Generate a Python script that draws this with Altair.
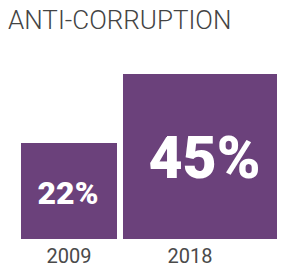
import altair as alt
import pandas as pd

years = ["2009", "2018"]
values = [22, 45]
labels = ["22%", "45%"]
chart_title = "ANTI-CORRUPTION"

df = pd.DataFrame({"year": years, "value": values, "label": labels})

PURPLE = "#6b417b"
GRAY = "#444444"

base = alt.Chart(df).transform_calculate(
    side="datum.value + 10"
).transform_calculate(
    step="datum.side + 2"
).transform_window(
    cum="sum(step)", sort=[alt.SortField("year")]
).transform_calculate(
    left="datum.cum - datum.step",
    right="datum.cum - 2",
    cx="datum.cum - datum.step + datum.side / 2",
    cy="datum.side / 2",
)

xs = alt.Scale(domain=[-4.333, 85.333], nice=False, zero=False, padding=0)
ys = alt.Scale(domain=[0, 63.667], nice=False, zero=False, padding=0)

rects = base.mark_rect(color=PURPLE, clip=True).encode(
    x=alt.X("left:Q", scale=xs, axis=None),
    x2="right:Q",
    y=alt.Y("side:Q", scale=ys, axis=None),
    y2=alt.datum(0),
)

texts = base.mark_text(
    color="white", font="Roboto", fontWeight=900, baseline="middle", align="center", dy=3, dx=-1
).encode(
    x=alt.X("cx:Q", scale=xs, axis=None),
    y=alt.Y("cy:Q", scale=ys, axis=None),
    text="label:N",
    size=alt.Size("value:Q", scale=alt.Scale(domain=[22, 45], range=[32, 59]), legend=None),
)

year_layer = alt.Chart(df).mark_point(opacity=0).encode(
    x=alt.X(
        "year:O",
        scale=alt.Scale(range=[0, 242], padding=0.5),
        axis=alt.Axis(
            orient="bottom", title=None, labelAngle=0, domain=False, ticks=False,
            labelFontSize=20, labelColor="#4a4a4a", labelFont="Roboto", labelFontWeight=400,
            labelPadding=7,
        ),
    )
)

chart = alt.layer(rects, texts, year_layer).resolve_scale(x="independent").properties(
    width=269,
    height=191,
    padding={"top": 40, "bottom": 24, "left": 0, "right": 0},
    autosize=alt.AutoSizeParams(type="none"),
    title=alt.TitleParams(
        text=chart_title, anchor="start", frame="group", fontSize=26, fontWeight=300,
        font="Roboto", color=GRAY, offset=14,
    ),
).configure_view(stroke=None)

chart.save("out.html", embed_options={"renderer": "svg", "actions": False})
